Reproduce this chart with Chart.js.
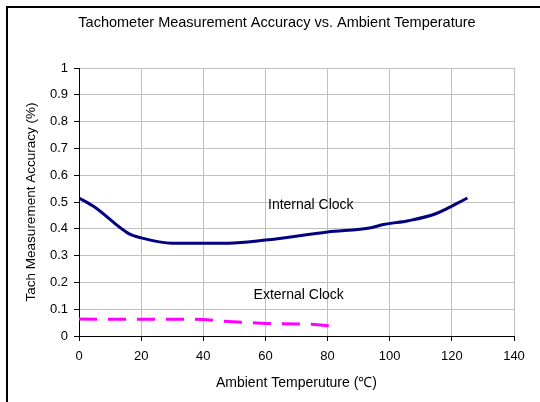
<!DOCTYPE html>
<html>
<head>
<meta charset="utf-8">
<script src="https://cdn.jsdelivr.net/npm/chart.js@4/dist/chart.umd.min.js"></script>
<style>
    html, body { margin: 0; padding: 0; background: #fff; }
    #wrap { width: 540px; height: 402px; position: relative; }
</style>
</head>
<body>
<div id="wrap"><canvas id="chartData" width="540" height="402"></canvas></div>
<script>
    // values
    const internalTemp = [0, 5, 16, 20, 30, 46, 60, 80, 94, 98, 106, 115, 125];
    const internalAcc = [0.515, 0.481, 0.382, 0.366, 0.346, 0.346, 0.358, 0.388, 0.404, 0.416, 0.43, 0.457, 0.515];
    const externalTemp = [0, 40, 46, 60, 75, 83];
    const externalAcc = [0.063, 0.062, 0.055, 0.047, 0.044, 0.035];

    const seriesNames = ['Internal Clock', 'External Clock'];
    // where the series names sit, in data units
    const labelTemp = [74.6, 70.7];
    const labelAcc = [0.489, 0.153];

    const chartTitle = 'Tachometer Measurement Accuracy vs. Ambient Temperature';
    const xTicks = [0, 20, 40, 60, 80, 100, 120, 140];
    const yTicks = [0, 0.1, 0.2, 0.3, 0.4, 0.5, 0.6, 0.7, 0.8, 0.9, 1];

    const font = "'Liberation Sans', Arial, sans-serif";
    Chart.defaults.font.family = font;
    Chart.defaults.font.size = 13;
    Chart.defaults.color = '#000';

    function toPoints(xs, ys) {
        let pts = [];
        for (let i = 0; i < xs.length; i++) {
            pts.push({ x: xs[i], y: ys[i] });
        }
        return pts;
    }

    // black frame along the top and left edge, plus the chart title
    const framePlugin = {
        id: 'frame',
        beforeDraw(chart) {
            const c = chart.ctx;
            c.save();
            c.strokeStyle = '#000';
            c.lineWidth = 2;
            c.beginPath();
            c.moveTo(7, chart.height);
            c.lineTo(7, 7);
            c.lineTo(chart.width, 7);
            c.stroke();
            c.font = '14.5px ' + font;
            c.fillStyle = '#000';
            c.textAlign = 'center';
            c.textBaseline = 'middle';
            c.fillText(chartTitle, 277, 23);
            c.restore();
        }
    };

    // series names written inside the plot
    const namesPlugin = {
        id: 'names',
        afterDatasetsDraw(chart) {
            const c = chart.ctx;
            const xs = chart.scales.x, ys = chart.scales.y;
            c.save();
            c.font = '14px ' + font;
            c.fillStyle = '#000';
            c.textAlign = 'center';
            c.textBaseline = 'middle';
            for (let i = 0; i < seriesNames.length; i++) {
                c.fillText(seriesNames[i], xs.getPixelForValue(labelTemp[i]), ys.getPixelForValue(labelAcc[i]));
            }
            c.restore();
        }
    };

    const ctx = document.getElementById('chartData');

    new Chart(ctx, {
        type: 'line',
        data: {
            datasets: [{
                label: seriesNames[0],
                data: toPoints(internalTemp, internalAcc),
                borderColor: '#000080',
                borderWidth: 3,
                pointRadius: 0,
                cubicInterpolationMode: 'monotone'
            }, {
                label: seriesNames[1],
                data: toPoints(externalTemp, externalAcc),
                borderColor: '#ff00ff',
                borderWidth: 3,
                borderDash: [18, 11],
                pointRadius: 0,
                tension: 0
            }]
        },
        options: {
            responsive: false,
            animation: false,
            devicePixelRatio: 1,
            layout: {
                padding: { left: 0, right: 26, top: 68, bottom: 0 }
            },
            plugins: {
                legend: { display: false },
                tooltip: { enabled: false },
                title: { display: false }
            },
            scales: {
                x: {
                    type: 'linear',
                    min: 0,
                    max: 140,
                    afterBuildTicks: s => { s.ticks = xTicks.map(v => ({ value: v })); },
                    afterFit: s => { s.height = 66; },
                    grid: { color: '#c0c0c0', tickColor: '#000', tickLength: 5 },
                    border: { color: '#000', width: 1 },
                    ticks: { padding: 8, maxRotation: 0 },
                    title: {
                        display: true,
                        text: 'Ambient Temperuture (℃)',
                        font: { size: 14 },
                        padding: { top: 4, bottom: 10.6 }
                    }
                },
                y: {
                    min: 0,
                    max: 1,
                    afterBuildTicks: s => { s.ticks = yTicks.map(v => ({ value: v })); },
                    afterFit: s => { s.width = 79; },
                    grid: { color: '#c0c0c0', tickColor: '#000', tickLength: 5 },
                    border: { color: '#000', width: 1 },
                    ticks: {
                        padding: 6,
                        callback: v => String(Math.round(v * 10) / 10)
                    },
                    title: {
                        display: true,
                        text: 'Tach Measurement Accuracy (%)',
                        font: { size: 13.5 },
                        padding: { top: 23, bottom: 4 }
                    }
                }
            }
        },
        plugins: [framePlugin, namesPlugin]
    });
</script>
</body>
</html>
